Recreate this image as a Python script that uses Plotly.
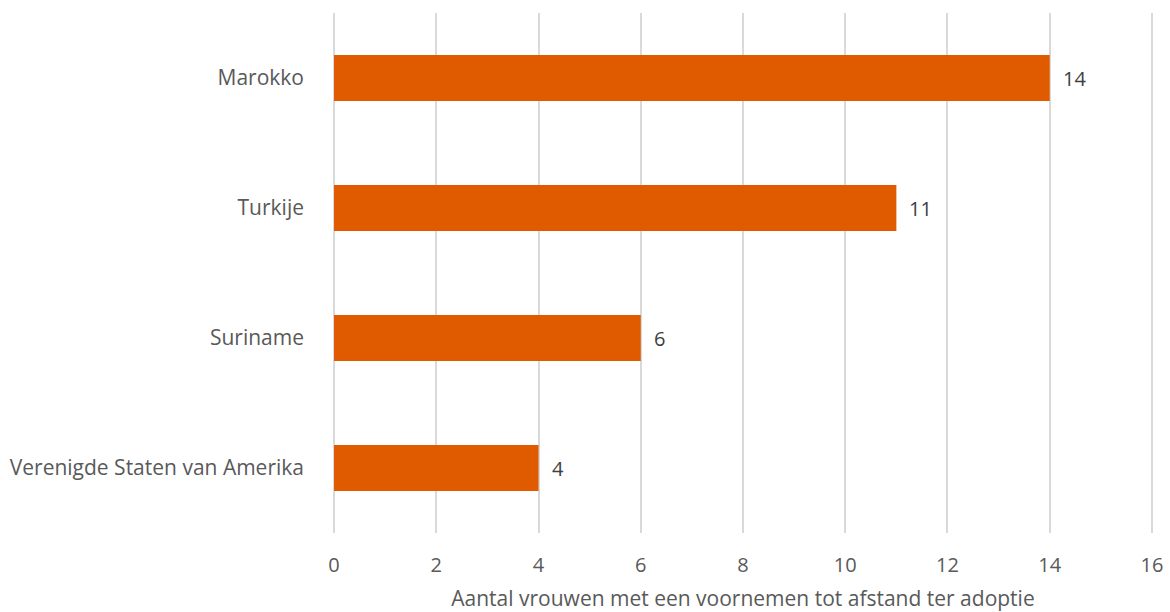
import plotly.graph_objects as go

countries = ["Verenigde Staten van Amerika", "Suriname", "Turkije", "Marokko"]
counts = [4, 6, 11, 14]
x_ticks = [0, 2, 4, 6, 8, 10, 12, 14, 16]
x_title = "Aantal vrouwen met een voornemen tot afstand ter adoptie"

bar_color = "#E05A00"
font_family = "Open Sans"
font_size = 21

fig = go.Figure(
    go.Bar(
        x=counts,
        y=countries,
        orientation="h",
        marker=dict(color=bar_color, line=dict(width=0)),
        width=0.354,
        hoverinfo="skip",
    )
)

# value labels to the right of each bar
for c, v in zip(countries, counts):
    fig.add_annotation(
        x=v, y=c, text=str(v), showarrow=False,
        xanchor="left", xshift=11,
        font=dict(family=font_family, size=20, color="#404040"),
    )

fig.update_layout(
    width=1170, height=612,
    margin=dict(l=333, r=17, t=13, b=79),
    plot_bgcolor="white", paper_bgcolor="white",
    showlegend=False,
    font=dict(family=font_family, size=font_size, color="#595959"),
)
fig.update_xaxes(
    range=[-0.02, 16.02], tickvals=x_ticks, showgrid=True, gridcolor="#d9d9d9", gridwidth=1.5,
    zeroline=False, showline=False, ticks="", ticklabelstandoff=18, automargin=False,
    tickfont=dict(size=20),
    title=dict(text=x_title, standoff=22, font=dict(size=21, color="#595959")),
)
fig.update_yaxes(
    range=[-0.5, 3.5], showgrid=False, zeroline=False, showline=False,
    ticks="", ticklabelstandoff=28, automargin=False,
)

fig.write_html("out.html")
